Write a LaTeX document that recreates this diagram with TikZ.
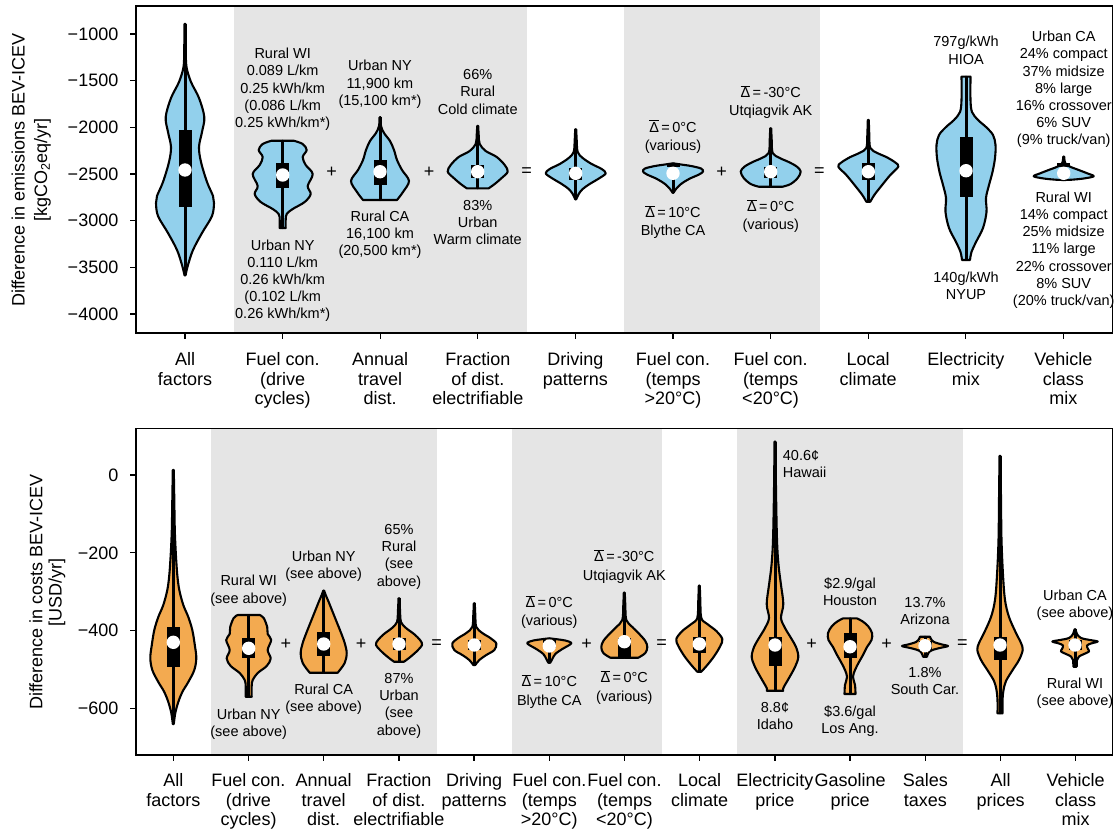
\documentclass[tikz,border=0pt]{standalone}
\usepackage{fontspec}
\setmainfont{Liberation Sans}
\usepackage{tikz}
\usetikzlibrary{positioning}
\definecolor{vioblue}{RGB}{146,208,236}
\definecolor{vioorange}{RGB}{243,170,80}
\definecolor{bandgray}{RGB}{229,229,229}
\tikzset{
  violine/.style={line width=2.1pt, line join=round, line cap=round},
  whisker/.style={line width=3pt},
  axisline/.style={line width=1.3pt},
  ann/.style={align=center, inner sep=0pt, font=\fontsize{14.5}{17.2}\selectfont},
  oper/.style={inner sep=0pt, font=\fontsize{18}{20}\selectfont},
  ticklab/.style={align=center, inner sep=0pt, anchor=north, font=\fontsize{18}{19.5}\selectfont},
  ylab/.style={inner sep=0pt, anchor=east, font=\fontsize{18}{20}\selectfont},
  axlab/.style={inner sep=0pt, rotate=90, font=\fontsize{18}{20}\selectfont},
}
\newcommand{\dbar}{$\overline{\hbox{Δ}}$}
% violin: x, top, bottom, (half width, y) outline, colour
\newcommand{\violin}[5]{%
  \foreach \s in {1,-1}
    \fill[#5, shift={(#1,0)}, xscale=\s] (0,#2) -- plot[smooth, tension=.55] coordinates {#4} -- (0,#3) -- cycle;
  \foreach \s in {1,-1}
    \draw[violine, shift={(#1,0)}, xscale=\s] (0,#2) -- plot[smooth, tension=.55] coordinates {#4} -- (0,#3);
  \draw[whisker] (#1,#2) -- (#1,#3);
}
% quartile box and mean dot: x, q1, q3, mean
\newcommand{\viobox}[4]{%
  \fill (#1-6.5,#2) rectangle (#1+6.5,#3);
  \fill[white] (#1,#4) circle (6.7pt);
}
\begin{document}
\begin{tikzpicture}[x=1pt,y=-1pt]
  \useasboundingbox (0,0) rectangle (1115,832);
  \def\fl{136}     % left edge of both axes
  \def\fr{1112.7}  % right edge of both axes
  % ---------------- emissions panel ----------------
  \fill[bandgray] (233.8,6) rectangle (526.7,333);
  \fill[bandgray] (624.4,6) rectangle (819.5,333);
  \violin{185}{24}{275.3}{(0.5,24) (0.8,50) (1.5,67) (6,82) (14,98) (19.3,117) (17,132) (14,147) (16,162) (22,182) (28,196) (29,203) (27,216) (17,233) (8,250) (3,265) (0.5,275.3)}{vioblue}
  \viobox{185}{130}{207}{170}
  \violin{282.7}{140.7}{228}{(11,140.7) (20,144) (24,150) (20,157) (23,165) (30,174) (25,186) (28,194) (22,202) (10,209) (4,214) (3,220) (3,228)}{vioblue}
  \viobox{282.7}{163}{188}{175}
  \violin{380}{117.3}{200}{(0.5,117.3) (1,126) (4,133) (10,141) (14,150) (17,160) (22,170) (29,181) (23,192) (17,200)}{vioblue}
  \viobox{380}{160}{185}{171.7}
  \violin{477.7}{126}{188.3}{(0.5,126) (1,135) (2,144) (8,151) (19,157) (27,165) (30,171.7) (24,178) (17,184) (11,188.3)}{vioblue}
  \viobox{477.7}{165}{178.3}{171.7}
  \violin{575.7}{129.3}{199.3}{(0.5,129.3) (1,140) (2,152) (7,158) (16,164) (26,169) (30,173.3) (24,178) (14,184) (7,189) (3,194) (0.5,199.3)}{vioblue}
  \viobox{575.7}{168}{180}{173.3}
  \violin{673}{163.3}{192.7}{(0,163.3) (8,164.5) (18,166) (28,168.5) (30,171.5) (26,174.5) (16,179) (8,184) (3,189) (0.5,192.7)}{vioblue}
  \viobox{673}{163.3}{167}{173.3}
  \violin{770.7}{128.3}{186.7}{(0.5,128.3) (1,140) (2,153) (9,158) (18,162) (26,166.5) (30,171.5) (27,178) (20,184) (12,186.7)}{vioblue}
  \viobox{770.7}{166.7}{178.3}{171.7}
  \violin{868.3}{120}{201.7}{(0.5,120) (1,135) (2,148) (9,153) (18,157) (27,162.5) (30,166.7) (22,175) (13,186) (6,195) (2,201.7)}{vioblue}
  \viobox{868.3}{163.3}{180}{171.7}
  \violin{966}{76.7}{260}{(4.5,76.7) (4.5,100) (6,112) (12,120) (20,127) (27,135) (29.5,145) (29,158) (26.5,172) (23,185) (20,198) (20.5,212) (17,228) (10,242) (5.5,252) (4,260)}{vioblue}
  \viobox{966}{136.7}{196.7}{170.7}
  \violin{1063.7}{156.7}{180}{(0.5,156.7) (1.5,163) (6,166.5) (15,170) (24,173.5) (30,176.3) (20,178.5) (8,179.7) (0,180)}{vioblue}
  \viobox{1063.7}{163}{167}{173.3}
  % operators between factors
  \foreach \n/\ox/\op in {1/331.7/+, 2/429/+, 3/526.7/=, 4/721.7/+, 5/819.3/=}
    \node[oper] (op\n) at (\ox,172.3) {\op};
  % labels of the extremes
  \node[ann] (wiup) at (282.7,89.3) {Rural WI\\0.089 L/km\\0.25 kWh/km\\(0.086 L/km\\0.25 kWh/km*)};
  \node[ann] (nydn) at (282.7,280.7) {Urban NY\\0.110 L/km\\0.26 kWh/km\\(0.102 L/km\\0.26 kWh/km*)};
  \node[ann] (kmup) at (380,84.3) {Urban NY\\11,900 km\\(15,100 km*)};
  \node[ann] (kmdn) at (380,234.5) {Rural CA\\16,100 km\\(20,500 km*)};
  \node[ann] (frup) at (477.7,92) {66\%\\Rural\\Cold climate};
  \node[ann] (frdn) at (477.7,222.5) {83\%\\Urban\\Warm climate};
  \node[ann, anchor=base] (hotup) at (673,132) {\dbar\,=\,0°C};
  \node[ann, anchor=base] (hotupb) at (673,150.5) {(various)};
  \node[ann, anchor=base] (hotdn) at (673,217.5) {\dbar\,=\,10°C};
  \node[ann, anchor=base] (hotdnb) at (673,235.5) {Blythe CA};
  \node[ann, anchor=base] (coldup) at (770.7,97.5) {\dbar\,=\,-30°C};
  \node[ann, anchor=base] (coldupb) at (770.7,115.5) {Utqiagvik AK};
  \node[ann, anchor=base] (colddn) at (770.7,211.5) {\dbar\,=\,0°C};
  \node[ann, anchor=base] (colddnb) at (770.7,229.8) {(various)};
  \node[ann] (gridup) at (966,50.3) {797g/kWh\\HIOA};
  \node[ann] (griddn) at (966,285.8) {140g/kWh\\NYUP};
  \node[ann] (classup) at (1063.7,89.5) {Urban CA\\24\% compact\\37\% midsize\\8\% large\\16\% crossover\\6\% SUV\\(9\% truck/van)};
  \node[ann] (classdn) at (1063.7,250.2) {Rural WI\\14\% compact\\25\% midsize\\11\% large\\22\% crossover\\8\% SUV\\(20\% truck/van)};
  % axes
  \draw[axisline] (\fl,6) rectangle (\fr,333);
  \foreach \k/\lab in {0/−1000, 1/−1500, 2/−2000, 3/−2500, 4/−3000, 5/−3500, 6/−4000} {
    \pgfmathsetmacro{\ty}{34+46.667*\k}
    \draw[axisline] (\fl,\ty) -- (\fl-6,\ty);
    \node[ylab] (ye\k) at (118.5,\ty) {\lab};
  }
  \foreach \i/\lab in {0/{All\\factors}, 1/{Fuel con.\\(drive\\cycles)}, 2/{Annual\\travel\\dist.},
                       3/{Fraction\\of dist.\\electrifiable}, 4/{Driving\\patterns}, 5/{Fuel con.\\(temps\\>20°C)},
                       6/{Fuel con.\\(temps\\<20°C)}, 7/{Local\\climate}, 8/{Electricity\\mix}, 9/{Vehicle\\class\\mix}} {
    \pgfmathsetmacro{\tx}{185+97.6*\i}
    \draw[axisline] (\tx,333) -- (\tx,339);
    \node[ticklab] (xe\i) at (\tx,352.5) {\lab};
  }
  \node[axlab] (yleA) at (18.3,170) {Difference in emissions BEV-ICEV};
  \node[axlab] (yleB) at (42.5,170) {[kgCO\textsubscript{2}eq/yr]};
  % ---------------- cost panel ----------------
  \fill[bandgray] (211,428.3) rectangle (436.7,755);
  \fill[bandgray] (511.8,428.3) rectangle (661.8,755);
  \fill[bandgray] (737,428.3) rectangle (962.5,755);
  \violin{173.3}{470}{724}{(0.5,470) (1,500) (1.5,530) (2.5,553) (4,575) (6,590) (10,605) (15,617) (19,630) (21.5,645) (23,658) (21,670) (15,682) (9,692) (5,702) (2,713) (0.5,724)}{vioorange}
  \viobox{173.3}{627.3}{667.3}{642.3}
  \violin{248.7}{615}{696.7}{(11,615) (15,618) (18.5,627) (19,634) (22.5,640) (19,650) (22,658.5) (18,666) (9,673) (4,680) (3,686) (3,696.7)}{vioorange}
  \viobox{248.7}{638.3}{658.3}{648.3}
  \violin{323.7}{590.7}{672.7}{(0.5,590.7) (2,595) (5,602) (9,612) (13,622) (17,632) (21,643) (23,653) (21,663) (14,672.7)}{vioorange}
  \viobox{323.7}{631.7}{656}{644}
  \violin{399}{598.3}{661.7}{(0.5,598.3) (1,610) (2,622) (7,628) (15,634) (21,640) (23,645) (17,652) (10,658) (5,661.7)}{vioorange}
  \viobox{399}{638.3}{650}{644}
  \violin{474.3}{603.3}{665}{(0.5,603.3) (1,615) (2,627) (8,633) (16,638) (22,643.5) (20,650) (12,655) (5,660) (1,665)}{vioorange}
  \viobox{474.3}{640}{650}{645}
  \violin{549.3}{638.3}{662.7}{(0,638.3) (8,639.3) (16,640.5) (22,642.7) (20,645) (13,649) (6,654) (3,659) (1,662.7)}{vioorange}
  \viobox{549.3}{640}{648}{646}
  \violin{624.3}{592.7}{657.7}{(0.5,592.7) (1,605) (2,620) (8,627) (15,634) (21,641) (23,647) (21,653) (14,657.7)}{vioorange}
  \viobox{624.3}{638.3}{657}{641.7}
  \violin{699.3}{585.7}{671.7}{(0.5,585.7) (1,600) (2,618) (8,624) (17,631) (23,639) (21,646) (15,656) (8,665) (2,671.7)}{vioorange}
  \viobox{699.3}{636.7}{652.7}{644}
  \violin{775}{441.7}{690.7}{(0.5,441.7) (1,490) (2,540) (3.5,565) (6,585) (8.3,604) (6,618) (10,628) (16,638) (21,647) (23.3,657) (20,667) (14,678) (8.3,688) (8.3,690.7)}{vioorange}
  \viobox{775}{636.7}{665.7}{645}
  \violin{850}{618.3}{694}{(6.7,618.3) (12,621) (18,626) (22,633) (21.5,640) (17,647) (13,655) (9,662) (5,670) (3,677) (5,685) (5.5,694)}{vioorange}
  \viobox{850}{633.3}{658.3}{646.7}
  \violin{925}{636.7}{656.7}{(5,636.7) (6,639) (9,642) (17,644.5) (23,646) (17,647.5) (9,649.5) (4,652) (2,656.7)}{vioorange}
  \viobox{925}{641}{650}{645.7}
  \violin{1000}{456}{713.3}{(0.5,456) (1,500) (1.5,540) (3,575) (5,600) (9,617) (16,633) (21,643) (22.7,650) (19,660) (12,671) (6,681) (3.5,690) (2.5,700) (2.5,713.3)}{vioorange}
  \viobox{1000}{636.7}{660}{645}
  \violin{1075}{629.3}{666.7}{(0.5,629.3) (2,634) (6,638) (15,640) (22.7,641.5) (16,643.5) (12,645.5) (13,649) (14,651.5) (9,654) (4,656.5) (2,660) (1.7,666.7)}{vioorange}
  \viobox{1075}{640}{650}{645}
  % operators between factors
  \foreach \n/\ox/\op in {1/286/+, 2/361/+, 3/436.7/=, 4/586.7/+, 5/661.7/=, 6/811.7/+, 7/886.7/+, 8/962.3/=}
    \node[oper] (oc\n) at (\ox,644) {\op};
  % labels of the extremes
  \node[ann] (cwiup) at (248.7,590.7) {Rural WI\\(see above)};
  \node[ann] (cnydn) at (248.7,724.2) {Urban NY\\(see above)};
  \node[ann] (ckmup) at (323.7,565.9) {Urban NY\\(see above)};
  \node[ann] (ckmdn) at (323.7,699) {Rural CA\\(see above)};
  \node[ann] (cfrup) at (399,556.7) {65\%\\Rural\\(see\\above)};
  \node[ann] (cfrdn) at (399,705.7) {87\%\\Urban\\(see\\above)};
  \node[ann, anchor=base] (chotup) at (549.3,607.2) {\dbar\,=\,0°C};
  \node[ann, anchor=base] (chotupb) at (549.3,625.9) {(various)};
  \node[ann, anchor=base] (chotdn) at (549.3,686.9) {\dbar\,=\,10°C};
  \node[ann, anchor=base] (chotdnb) at (549.3,705.2) {Blythe CA};
  \node[ann, anchor=base] (ccoldup) at (624.3,561.9) {\dbar\,=\,-30°C};
  \node[ann, anchor=base] (ccoldupb) at (624.3,580.5) {Utqiagvik AK};
  \node[ann, anchor=base] (ccolddn) at (624.3,682.5) {\dbar\,=\,0°C};
  \node[ann, anchor=base] (ccolddnb) at (624.3,701.2) {(various)};
  \node[ann, anchor=west, align=left] (elup) at (782.7,464.3) {40.6¢\\Hawaii};
  \node[ann] (eldn) at (775,716) {8.8¢\\Idaho};
  \node[ann] (gasup) at (850,592) {\$2.9/gal\\Houston};
  \node[ann] (gasdn) at (850,721.2) {\$3.6/gal\\Los Ang.};
  \node[ann] (taxup) at (925,611) {13.7\%\\Arizona};
  \node[ann] (taxdn) at (925,681) {1.8\%\\South Car.};
  \node[ann] (cclassup) at (1075,605.2) {Urban CA\\(see above)};
  \node[ann] (cclassdn) at (1075,692.9) {Rural WI\\(see above)};
  % axes
  \draw[axisline] (\fl,428.3) rectangle (\fr,755);
  \foreach \k/\lab in {0/0, 1/−200, 2/−400, 3/−600} {
    \pgfmathsetmacro{\ty}{475+77.83*\k}
    \draw[axisline] (\fl,\ty) -- (\fl-6,\ty);
    \node[ylab] (yc\k) at (118.5,\ty) {\lab};
  }
  \foreach \i/\lab in {0/{All\\factors}, 1/{Fuel con.\\(drive\\cycles)}, 2/{Annual\\travel\\dist.},
                       3/{Fraction\\of dist.\\electrifiable}, 4/{Driving\\patterns}, 5/{Fuel con.\\(temps\\>20°C)},
                       6/{Fuel con.\\(temps\\<20°C)}, 7/{Local\\climate}, 8/{Electricity\\price}, 9/{Gasoline\\price},
                       10/{Sales\\taxes}, 11/{All\\prices}, 12/{Vehicle\\class\\mix}} {
    \pgfmathsetmacro{\tx}{173.3+75.2*\i}
    \draw[axisline] (\tx,755) -- (\tx,761);
    \node[ticklab] (xc\i) at (\tx,773.5) {\lab};
  }
  \node[axlab] (ylcA) at (36,592) {Difference in costs BEV-ICEV};
  \node[axlab] (ylcB) at (57,592) {[USD/yr]};
\end{tikzpicture}
\end{document}
